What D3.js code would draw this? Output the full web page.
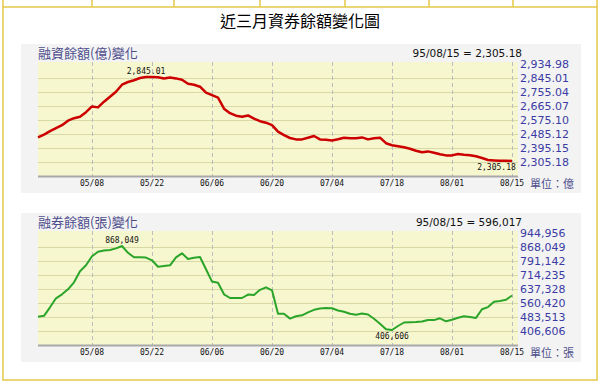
<!DOCTYPE html>
<html lang="zh-Hant">
<head>
<meta charset="UTF-8">
<title>近三月資券餘額變化圖</title>
<script src="https://d3js.org/d3.v7.min.js"></script>
<style>
  body { margin: 0; background: #fff; }
</style>
</head>
<body>
<script>
// x-axis labels (every 10 trading days)
const dateLabels = ["05/08", "05/22", "06/06", "06/20", "07/04", "07/18", "08/01", "08/15"];
const dateIndex = [9, 19, 29, 39, 49, 59, 69, 79];
const lastDate = "95/08/15";

// 融資餘額 (億)
const marginValues = [
  2456.9, 2474.2, 2496.7, 2516.0, 2535.3, 2564.2, 2580.2, 2589.9, 2618.8, 2656.1,
  2649.7, 2686.3, 2718.4, 2750.5, 2795.5, 2812.9, 2824.4, 2838.6, 2845.01, 2844.5,
  2843.8, 2836.0, 2842.0, 2836.0, 2827.7, 2802.0, 2795.5, 2782.7, 2744.1, 2728.1,
  2712.0, 2641.3, 2612.4, 2596.3, 2589.9, 2598.2, 2577.0, 2561.0, 2551.3, 2535.3,
  2493.5, 2471.0, 2453.0, 2444.0, 2444.0, 2454.9, 2465.9, 2444.0, 2442.1, 2436.9,
  2445.3, 2454.9, 2451.7, 2451.7, 2456.9, 2444.0, 2451.7, 2454.9, 2419.6, 2406.7,
  2400.3, 2393.9, 2384.2, 2371.4, 2361.8, 2366.9, 2358.5, 2348.9, 2341.2, 2341.2,
  2350.2, 2345.7, 2342.5, 2336.0, 2324.5, 2311.6, 2309.0, 2307.1, 2306.5, 2305.18
];
const marginTicks = [2934.98, 2845.01, 2755.04, 2665.07, 2575.10, 2485.12, 2395.15, 2305.18];

// 融券餘額 (張)
const shortValues = [
  479119, 484612, 531306, 580747, 602720, 630187, 668641, 729069, 762029, 811470,
  836190, 842782, 846078, 855000, 868049, 830696, 805976, 805976, 804328, 789496,
  753789, 758184, 762029, 805976, 827950, 796637, 803229, 807624, 740055, 672486,
  665894, 602720, 582395, 582395, 582395, 601072, 598326, 627441, 641174, 624694,
  495599, 495599, 469231, 481866, 487359, 503839, 517573, 524165, 526911, 525813,
  513727, 506586, 495599, 490106, 496698, 491754, 468132, 440665, 410451, 406606,
  428580, 447807, 448905, 450004, 453300, 461540, 460991, 470879, 454399, 462639,
  473625, 481866, 478020, 473076, 520319, 532405, 561520, 565915, 572506, 596017
];
const shortTicks = [944956, 868049, 791142, 714235, 637328, 560420, 483513, 406606];

const W = 601, H = 382;
const svg = d3.select("body").append("svg").attr("width", W).attr("height", H);

// outer frame
const gold = "#e4c94a";
const frame = svg.append("g").attr("stroke", gold).attr("stroke-width", 1.5).attr("fill", "none");
frame.append("rect").attr("x", 3).attr("y", 7).attr("width", 594).attr("height", 373);
[92, 174, 260, 345, 429, 513].forEach(x => {
  frame.append("line").attr("x1", x).attr("x2", x).attr("y1", 0).attr("y2", 7);
});
frame.append("line").attr("x1", 3).attr("x2", 3).attr("y1", 0).attr("y2", 7);
frame.append("line").attr("x1", 597).attr("x2", 597).attr("y1", 0).attr("y2", 7);

svg.append("text").attr("x", 300).attr("y", 27).attr("text-anchor", "middle")
  .style("font-family", "'Noto Sans CJK TC'").style("font-size", "16px").attr("fill", "#000")
  .text("近三月資券餘額變化圖");

const x = d3.scaleLinear().domain([0, marginValues.length - 1]).range([38, 512]);

function drawPanel(top, cfg) {
  const g = svg.append("g").attr("transform", `translate(0,${top})`);
  const plotTop = 18, plotBottom = 132, left = 38, right = 518;
  const step = cfg.ticks[0] - cfg.ticks[1];
  const lo = cfg.ticks[cfg.ticks.length - 1] - step;
  const y = d3.scaleLinear().domain([lo, cfg.ticks[0]]).range([plotBottom, plotTop + 2]);

  g.append("rect").attr("x", 21).attr("y", 0).attr("width", 560).attr("height", 149).attr("fill", "#f3f3f3");
  g.append("rect").attr("x", left).attr("y", plotTop).attr("width", right - left)
    .attr("height", plotBottom - plotTop).attr("fill", "#f7f7cf");

  // horizontal grid
  g.selectAll(".hg").data(cfg.ticks.slice(1)).enter().append("line")
    .attr("x1", left).attr("x2", right)
    .attr("y1", d => Math.round(y(d)) + 0.5).attr("y2", d => Math.round(y(d)) + 0.5)
    .attr("stroke", "#d9d9a6").attr("stroke-width", 1);

  // vertical dashed grid
  g.selectAll(".vg").data(dateIndex).enter().append("line")
    .attr("x1", d => Math.round(x(d)) + 0.5).attr("x2", d => Math.round(x(d)) + 0.5)
    .attr("y1", plotTop).attr("y2", plotBottom)
    .attr("stroke", "#bdbdbd").attr("stroke-dasharray", "4,3");

  // bottom axis line
  g.append("line").attr("x1", left).attr("x2", right).attr("y1", plotBottom + 0.5).attr("y2", plotBottom + 0.5)
    .attr("stroke", "#a8a8a8").attr("stroke-width", 2);

  // series line
  const line = d3.line().x((d, i) => x(i)).y(d => y(d) - 1);
  g.append("path").datum(cfg.values).attr("d", line)
    .attr("fill", "none").attr("stroke", cfg.color).attr("stroke-width", cfg.width)
    .attr("stroke-linejoin", "round");

  // right tick labels
  g.selectAll(".tl").data(cfg.ticks).enter().append("text")
    .attr("x", 520).attr("y", d => y(d) + 4)
    .style("font-family", "'DejaVu Sans'").style("font-size", "11px").attr("fill", "#3b3ba3")
    .text(d => cfg.fmt(d));

  // date labels
  g.selectAll(".dl").data(dateIndex).enter().append("text")
    .attr("x", d => x(d)).attr("y", plotBottom + 10).attr("text-anchor", "middle")
    .style("font-family", "'DejaVu Sans Mono'").style("font-size", "8px").attr("fill", "#111")
    .text((d, i) => dateLabels[i]);

  // titles
  g.append("text").attr("x", 38).attr("y", 14)
    .style("font-family", "'Noto Sans CJK TC'").style("font-size", "13px").attr("fill", "#4d4d8c")
    .text(cfg.title);
  g.append("text").attr("x", 522).attr("y", 13).attr("text-anchor", "end")
    .style("font-family", "'DejaVu Sans'").style("font-size", "10.5px").attr("fill", "#111")
    .text(lastDate + " = " + cfg.fmt(cfg.values[cfg.values.length - 1]));
  g.append("text").attr("x", 530).attr("y", 144)
    .style("font-family", "'Noto Sans CJK TC'").style("font-size", "11px").attr("fill", "#4d4d8c")
    .text(cfg.unit);

  // max / min labels
  const maxI = d3.maxIndex(cfg.values), minI = d3.minIndex(cfg.values);
  const lw = 39;
  const clampX = v => Math.min(v, right - 2 - lw / 2);
  g.append("text").attr("x", clampX(x(maxI))).attr("y", y(cfg.values[maxI]) - 4).attr("text-anchor", "middle")
    .style("font-family", "'DejaVu Sans Mono'").style("font-size", "8px").attr("fill", "#111")
    .text(cfg.fmt(cfg.values[maxI]));
  g.append("text").attr("x", clampX(x(minI))).attr("y", y(cfg.values[minI]) + 8).attr("text-anchor", "middle")
    .style("font-family", "'DejaVu Sans Mono'").style("font-size", "8px").attr("fill", "#111")
    .text(cfg.fmt(cfg.values[minI]));
}

drawPanel(44, {
  title: "融資餘額(億)變化", unit: "單位：億", values: marginValues, ticks: marginTicks,
  fmt: d3.format(",.2f"), color: "#cc0000", width: 2.5
});
drawPanel(213, {
  title: "融券餘額(張)變化", unit: "單位：張", values: shortValues, ticks: shortTicks,
  fmt: d3.format(","), color: "#2aa52a", width: 2
});
</script>
</body>
</html>
